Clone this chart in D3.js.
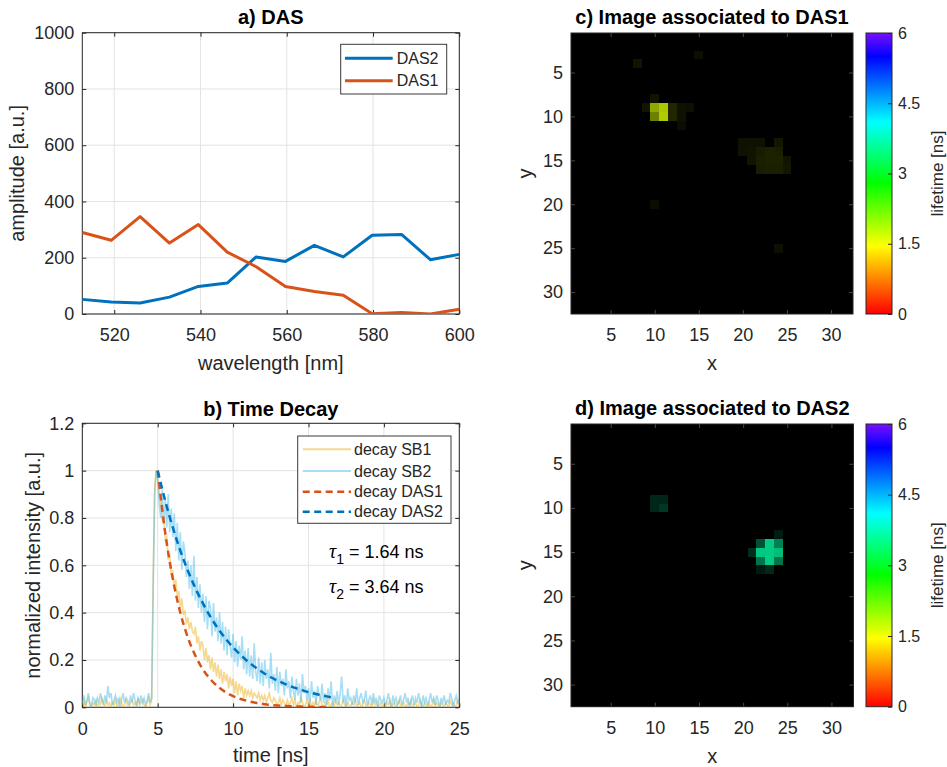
<!DOCTYPE html>
<html>
<head>
<meta charset="utf-8">
<script src="https://cdn.jsdelivr.net/npm/d3@7"></script>
<style>
  body { margin: 0; background: #fff; }
  svg { display: block; font-family: "Liberation Sans", Arial, sans-serif; }
</style>
</head>
<body>
<svg id="fig" width="947" height="767"></svg>
<script>
// ---- data ----

// a) DAS spectra
const wavelength = [512.6, 519.3, 526.0, 532.8, 539.5, 546.2, 552.9, 559.7, 566.4, 573.1, 579.8, 586.6, 593.3, 600.0];
const das2Amp = [52, 43, 39, 60, 98, 110, 203, 187, 244, 203, 280, 283, 193, 212];
const das1Amp = [290, 262, 346, 252, 318, 220, 168, 98, 80, 67, 1, 5, 0, 17];

// b) decay traces, sampled every 0.1 ns from 0 to 25 ns
const timeStep = 0.1;
const decaySB1 = [
  .01,.03,.00,.02,.04,.01,.00,.02,.01,.03,
  .00,.02,.01,.04,.02,.00,.03,.01,.02,.00,
  .02,.01,.03,.00,.01,.04,.02,.00,.01,.03,
  .01,.00,.02,.03,.01,.02,.00,.04,.01,.02,
  .03,.01,.00,.02,.04,.01,.03,.55,.93,1.00,
  .97,.90,.87,.79,.79,.71,.72,.63,.64,.56,
  .58,.51,.54,.47,.49,.42,.46,.39,.41,.35,
  .38,.33,.36,.32,.31,.34,.27,.30,.24,.28,
  .26,.20,.25,.19,.22,.16,.21,.15,.19,.13,
  .18,.12,.16,.10,.15,.11,.14,.08,.13,.09,
  .12,.06,.11,.05,.10,.07,.09,.04,.08,.05,
  .07,.05,.07,.04,.06,.05,.04,.06,.03,.05,
  .03,.05,.02,.04,.06,.03,.02,.04,.03,.01,
  .02,.04,.01,.03,.02,.00,.03,.01,.02,.04,
  .01,.03,.00,.02,.01,.04,.02,.00,.01,.03,
  .01,.03,.00,.02,.01,.03,.00,.02,.04,.01,
  .00,.02,.01,.03,.00,.01,.02,.00,.03,.01,
  .02,.00,.01,.03,.01,.00,.02,.01,.00,.02,
  .01,.03,.00,.01,.02,.00,.01,.03,.01,.00,
  .02,.01,.00,.03,.01,.02,.00,.01,.02,.00,
  .01,.00,.02,.01,.03,.00,.01,.02,.00,.01,
  .03,.01,.00,.02,.01,.00,.02,.01,.03,.00,
  .01,.02,.00,.01,.03,.01,.00,.02,.01,.00,
  .02,.00,.01,.03,.00,.02,.01,.00,.02,.01,
  .00,.02,.01,.00,.03,.01,.02,.00,.01,.03,
  .01
];
const decaySB2 = [
  .02,.05,.01,.03,.06,.02,.00,.04,.03,.01,
  .04,.02,.06,.03,.01,.05,.02,.09,.04,.06,
  .01,.03,.05,.02,.04,.00,.03,.06,.02,.04,
  .03,.01,.05,.02,.06,.03,.01,.04,.02,.05,
  .02,.04,.01,.03,.06,.02,.04,.50,.90,1.00,
  .96,.86,.80,.92,.78,.88,.76,.90,.74,.84,
  .72,.82,.66,.78,.62,.74,.58,.70,.66,.55,
  .62,.50,.60,.47,.64,.45,.55,.42,.52,.40,
  .48,.36,.47,.33,.45,.42,.30,.44,.32,.38,
  .28,.40,.27,.36,.24,.34,.22,.33,.26,.21,
  .31,.19,.28,.17,.26,.20,.30,.16,.24,.14,
  .25,.13,.22,.12,.27,.15,.11,.21,.10,.19,
  .09,.20,.12,.16,.08,.23,.10,.14,.07,.17,
  .06,.15,.09,.12,.05,.16,.08,.11,.04,.13,
  .07,.03,.12,.05,.10,.02,.14,.06,.09,.03,
  .08,.02,.11,.04,.07,.01,.09,.05,.03,.10,
  .02,.06,.01,.08,.03,.11,.00,.05,.02,.07,
  .01,.06,.13,.02,.05,.00,.08,.03,.04,.01,
  .05,.02,.08,.01,.04,.06,.02,.03,.07,.01,
  .03,.05,.01,.06,.02,.04,.00,.05,.03,.02,
  .04,.01,.03,.06,.02,.00,.05,.02,.04,.01,
  .02,.05,.01,.03,.06,.02,.04,.00,.03,.05,
  .01,.04,.02,.06,.03,.00,.05,.02,.04,.01,
  .03,.06,.02,.04,.01,.05,.03,.00,.04,.02,
  .05,.01,.03,.02,.06,.04,.00,.03,.05,.02,
  .03
];

// fitted decays (dashed)
const fitTime = [5, 5.5, 6, 6.5, 7, 7.5, 8, 8.5, 9, 9.5, 10, 10.5, 11, 11.5, 12, 12.5, 13, 13.5, 14, 14.5, 15, 15.5, 16, 16.5];
const fitDAS1 = [1, .737, .543, .40, .295, .218, .16, .118, .087, .064, .047, .035, .026, .019, .014, .010, .0076, .0056, .0041, .003, .0022, .0016, .0012, .0009];
const fitDAS2 = [1, .872, .760, .662, .577, .503, .439, .382, .333, .290, .253, .221, .192, .168, .146, .127, .111, .097, .084, .074, .064, .056, .049, .042];
const lifetimes = [1.64, 3.64];

// c) / d) images: [x, y, relative intensity], every other pixel is 0
const imgDAS1 = [
  [15,3,.06],[8,4,.08],[10,8,.08],
  [9,9,.08],[10,9,.66],[11,9,.78],[12,9,.15],[13,9,.07],[14,9,.06],
  [10,10,.50],[11,10,.80],[12,10,.15],[13,10,.07],[13,11,.05],
  [20,13,.07],[21,13,.07],[22,13,.07],[24,13,.09],
  [20,14,.07],[21,14,.08],[22,14,.11],[23,14,.13],[24,14,.12],
  [21,15,.08],[22,15,.12],[23,15,.13],[24,15,.13],[25,15,.08],
  [22,16,.11],[23,16,.12],[24,16,.12],[25,16,.09],
  [10,20,.05],[24,25,.06]
];
const imgDAS2 = [
  [10,9,.15],[11,9,.15],[10,10,.15],[11,10,.22],
  [24,13,.11],
  [22,14,.32],[23,14,.80],[24,14,.50],
  [21,15,.18],[22,15,.78],[23,15,.80],[24,15,.74],
  [22,16,.46],[23,16,.80],[24,16,.46],
  [22,17,.10],[23,17,.16]
];
const imgSize = 32;

// colour bar
const cmapStops = [0, 1.45, 2.8, 4.1, 5.5, 6];
const cmapColors = ['#ff0000', '#ffff00', '#00ff00', '#00ffff', '#0000ff', '#7a10ff'];
const cbarTicks = [0, 1.5, 3, 4.5, 6];

// tick values
const aTicksX = [520, 540, 560, 580, 600];
const aTicksY = [0, 200, 400, 600, 800, 1000];
const bTicksX = [0, 5, 10, 15, 20, 25];
const bTicksY = [0, 0.2, 0.4, 0.6, 0.8, 1, 1.2];
const imgTicks = [5, 10, 15, 20, 25, 30];

// ---- drawing ----
const svg = d3.select('#fig');
const INK = '#262626';
const BLUE = '#0072BD', ORANGE = '#D95319';

function boxAxes(g, x, y, xt, yt, opts = {}) {
  const [x0, x1] = x.range();
  const [y0, y1] = y.range();
  if (opts.grid) {
    g.append('g').selectAll('line').data(xt).join('line')
      .attr('x1', d => x(d)).attr('x2', d => x(d)).attr('y1', y0).attr('y2', y1)
      .attr('stroke', '#e3e3e3');
    g.append('g').selectAll('line').data(yt).join('line')
      .attr('y1', d => y(d)).attr('y2', d => y(d)).attr('x1', x0).attr('x2', x1)
      .attr('stroke', '#e3e3e3');
  }
  const fmt = d => String(d);
  const tk = opts.tickColor || INK;
  const styleAx = sel => {
    sel.select('.domain').remove();
    sel.selectAll('line').attr('stroke', tk);
    sel.selectAll('text').attr('fill', INK).attr('font-size', 18);
  };
  g.append('g').attr('transform', `translate(0,${y0})`)
    .call(d3.axisBottom(x).tickValues(xt).tickFormat(fmt).tickSize(-4).tickPadding(14.5)).call(styleAx);
  g.append('g').attr('transform', `translate(0,${y1})`)
    .call(d3.axisTop(x).tickValues(xt).tickFormat('').tickSize(-4)).call(styleAx);
  g.append('g').attr('transform', `translate(${x0},0)`)
    .call(d3.axisLeft(y).tickValues(yt).tickFormat(fmt).tickSize(-4).tickPadding(8)).call(styleAx);
  g.append('g').attr('transform', `translate(${x1},0)`)
    .call(d3.axisRight(y).tickValues(yt).tickFormat('').tickSize(-4)).call(styleAx);
  g.append('rect').attr('x', x0).attr('y', y1).attr('width', x1 - x0).attr('height', y0 - y1)
    .attr('fill', 'none').attr('stroke', INK).attr('stroke-width', 1);
}

function title(txt, cx, by) {
  svg.append('text').attr('x', cx).attr('y', by).attr('text-anchor', 'middle')
    .attr('font-size', 20).attr('font-weight', 'bold').attr('fill', '#000').text(txt);
}
function xLabel(txt, cx, by) {
  svg.append('text').attr('x', cx).attr('y', by).attr('text-anchor', 'middle')
    .attr('font-size', 20).attr('fill', INK).text(txt);
}
function yLabel(txt, bx, cy, size = 20) {
  svg.append('text').attr('transform', `translate(${bx},${cy}) rotate(-90)`)
    .attr('text-anchor', 'middle').attr('font-size', size).attr('fill', INK).text(txt);
}
function clip(id, x, y) {
  const [x0, x1] = x.range(), [y0, y1] = y.range();
  svg.append('clipPath').attr('id', id).append('rect')
    .attr('x', x0).attr('y', y1).attr('width', x1 - x0).attr('height', y0 - y1);
  return `url(#${id})`;
}
function legend(items, bx, by, bw, bh, rowY, lx0, lx1, tx) {
  const g = svg.append('g');
  g.append('rect').attr('x', bx).attr('y', by).attr('width', bw).attr('height', bh)
    .attr('fill', '#fff').attr('stroke', '#3a3a3a').attr('stroke-width', 1);
  items.forEach((it, i) => {
    g.append('line').attr('x1', lx0).attr('x2', lx1).attr('y1', rowY[i]).attr('y2', rowY[i])
      .attr('stroke', it.color).attr('stroke-width', it.width)
      .attr('stroke-opacity', it.opacity || 1)
      .attr('stroke-dasharray', it.dash || null);
    g.append('text').attr('x', tx).attr('y', rowY[i]).attr('dy', '0.35em')
      .attr('font-size', 16).attr('fill', INK).text(it.label);
  });
}

// ---------- a) DAS ----------
{
  const x = d3.scaleLinear().domain([wavelength[0], 600]).range([82.3, 459.3]);
  const y = d3.scaleLinear().domain([0, 1000]).range([314, 32.7]);
  const g = svg.append('g');
  boxAxes(g, x, y, aTicksX, aTicksY, { grid: true });
  const cp = clip('clipA', x, y);
  const line = vals => d3.line().x((d, i) => x(wavelength[i])).y(d => y(d))(vals);
  g.append('path').attr('d', line(das2Amp)).attr('clip-path', cp)
    .attr('fill', 'none').attr('stroke', BLUE).attr('stroke-width', 3).attr('stroke-linejoin', 'round');
  g.append('path').attr('d', line(das1Amp)).attr('clip-path', cp)
    .attr('fill', 'none').attr('stroke', ORANGE).attr('stroke-width', 3).attr('stroke-linejoin', 'round');
  legend([
    { label: 'DAS2', color: BLUE, width: 3 },
    { label: 'DAS1', color: ORANGE, width: 3 }
  ], 340.7, 44.3, 106, 49.7, [58.3, 80.7], 345, 392.7, 396.7);
  title('a) DAS', 270.8, 24);
  xLabel('wavelength [nm]', 270.8, 370);
  yLabel('amplitude [a.u.]', 24, 173.4);
}

// ---------- b) Time Decay ----------
{
  const x = d3.scaleLinear().domain([0, 25]).range([82.3, 459.3]);
  const y = d3.scaleLinear().domain([0, 1.2]).range([707.3, 423.3]);
  const g = svg.append('g');
  boxAxes(g, x, y, bTicksX, bTicksY, { grid: true });
  const cp = clip('clipB', x, y);
  const trace = d3.line().x((d, i) => x(i * timeStep)).y(d => y(d));
  g.append('path').attr('d', trace(decaySB1)).attr('clip-path', cp)
    .attr('fill', 'none').attr('stroke', '#EDB120').attr('stroke-opacity', 0.5).attr('stroke-width', 1.6);
  g.append('path').attr('d', trace(decaySB2)).attr('clip-path', cp)
    .attr('fill', 'none').attr('stroke', '#4DBEEE').attr('stroke-opacity', 0.5).attr('stroke-width', 1.6);
  const fit = d3.line().x((d, i) => x(fitTime[i])).y(d => y(d)).curve(d3.curveMonotoneX);
  g.append('path').attr('d', fit(fitDAS1)).attr('clip-path', cp)
    .attr('fill', 'none').attr('stroke', ORANGE).attr('stroke-width', 2.5).attr('stroke-dasharray', '7,4.5');
  g.append('path').attr('d', fit(fitDAS2)).attr('clip-path', cp)
    .attr('fill', 'none').attr('stroke', BLUE).attr('stroke-width', 2.5).attr('stroke-dasharray', '7,4.5');
  legend([
    { label: 'decay SB1', color: '#EDB120', width: 2, opacity: 0.5 },
    { label: 'decay SB2', color: '#4DBEEE', width: 2, opacity: 0.5 },
    { label: 'decay DAS1', color: ORANGE, width: 2.5, dash: '7,4.5' },
    { label: 'decay DAS2', color: BLUE, width: 2.5, dash: '7,4.5' }
  ], 297.7, 436, 153.3, 87.3, [449.3, 471, 491.7, 511.7], 302.7, 351, 354);

  [0, 1].forEach(i => {
    const t = g.append('text').attr('x', 329).attr('y', 558 + i * 35)
      .attr('font-size', 18).attr('fill', '#000');
    t.append('tspan').attr('font-family', '"Liberation Serif", "DejaVu Serif", serif')
      .attr('font-style', 'italic').attr('font-size', 20).text('\u03C4');
    t.append('tspan').attr('font-size', 14).attr('dy', 6).text(String(i + 1));
    t.append('tspan').attr('dy', -6).text(` = ${lifetimes[i].toFixed(2)} ns`);
  });

  title('b) Time Decay', 270.8, 416);
  xLabel('time [ns]', 270.8, 762);
  yLabel('normalized intensity [a.u.]', 39.5, 565.3);
}

// ---------- c) / d) images ----------
const cmap = d3.scaleLinear().domain(cmapStops).range(cmapColors).interpolate(d3.interpolateRgb).clamp(true);

function imagePanel(pixels, lifetime, box, ttl, gradId) {
  const x = d3.scaleLinear().domain([0.5, imgSize + 0.5]).range([box.left, box.right]);
  const y = d3.scaleLinear().domain([0.5, imgSize + 0.5]).range([box.top, box.bottom]);
  const g = svg.append('g');

  const lookup = new Map(pixels.map(p => [p[0] + ',' + p[1], p[2]]));
  const cells = d3.cross(d3.range(1, imgSize + 1), d3.range(1, imgSize + 1))
    .map(([c, r]) => ({ c, r, v: lookup.get(c + ',' + r) || 0 }));
  const base = d3.rgb(cmap(lifetime));
  g.append('g').attr('shape-rendering', 'crispEdges')
    .selectAll('rect').data(cells).join('rect')
    .attr('x', d => x(d.c - 0.5)).attr('y', d => y(d.r - 0.5))
    .attr('width', x(1.5) - x(0.5) + 0.4).attr('height', y(1.5) - y(0.5) + 0.4)
    .attr('fill', d => d3.rgb(base.r * d.v, base.g * d.v, base.b * d.v).formatHex());

  // y axis reversed (image rows go down), ranges given bottom->top for boxAxes
  const yAx = d3.scaleLinear().domain([imgSize + 0.5, 0.5]).range([box.bottom, box.top]);
  boxAxes(g, x, yAx, imgTicks, imgTicks, { tickColor: '#4a4a4a' });

  title(ttl, (box.left + box.right) / 2, box.top - 9);
  xLabel('x', (box.left + box.right) / 2, box.bottom + 56);
  yLabel('y', 532, (box.top + box.bottom) / 2);

  // colour bar
  const cb = { left: 866, right: 892 };
  const grad = svg.append('defs').append('linearGradient').attr('id', gradId)
    .attr('x1', 0).attr('y1', 1).attr('x2', 0).attr('y2', 0);
  cmapStops.forEach((s, i) => {
    grad.append('stop').attr('offset', s / 6).attr('stop-color', cmapColors[i]);
  });
  const cy = d3.scaleLinear().domain([0, 6]).range([box.bottom, box.top]);
  svg.append('rect').attr('x', cb.left).attr('y', box.top)
    .attr('width', cb.right - cb.left).attr('height', box.bottom - box.top)
    .attr('fill', `url(#${gradId})`).attr('stroke', INK).attr('stroke-width', 1);
  svg.append('g').attr('transform', `translate(${cb.right},0)`)
    .call(d3.axisRight(cy).tickValues(cbarTicks).tickFormat(d => String(d)).tickSize(-4).tickPadding(6))
    .call(sel => {
      sel.select('.domain').remove();
      sel.selectAll('line').attr('stroke', INK);
      sel.selectAll('text').attr('fill', INK).attr('font-size', 16);
    });
  yLabel('lifetime [ns]', 943, (box.top + box.bottom) / 2, 17);
}

imagePanel(imgDAS1, lifetimes[0], { left: 571, right: 853, top: 33, bottom: 314 },
  'c) Image associated to DAS1', 'cbarC');
imagePanel(imgDAS2, lifetimes[1], { left: 571, right: 853.5, top: 424, bottom: 706.7 },
  'd) Image associated to DAS2', 'cbarD');
</script>
</body>
</html>
